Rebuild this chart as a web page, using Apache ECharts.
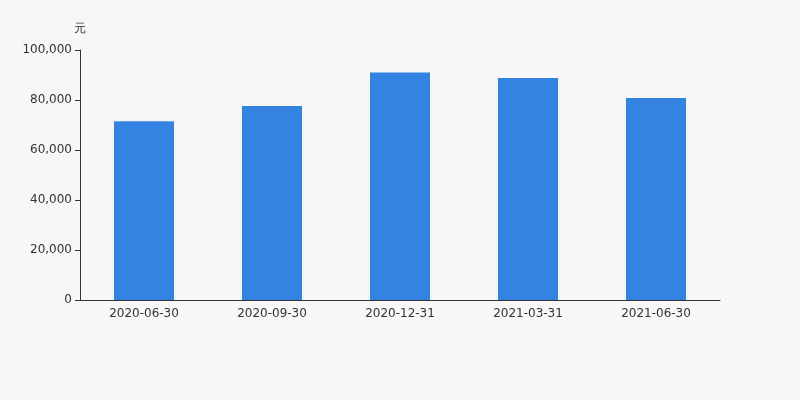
<!DOCTYPE html>
<html>
<head>
<meta charset="utf-8">
<script src="https://cdn.jsdelivr.net/npm/echarts@6/dist/echarts.min.js"></script>
<style>html,body{margin:0;padding:0;background:#f7f7f7;}#c{width:800px;height:400px;}</style>
</head>
<body>
<div id="c"></div>
<script>
var categories = ['2020-06-30', '2020-09-30', '2020-12-31', '2021-03-31', '2021-06-30'];
var values = [71500, 77600, 91000, 88800, 80800];
var unitName = '元';

var chart = echarts.init(document.getElementById('c'));
chart.setOption({
  backgroundColor: '#f7f7f7',
  animation: false,
  grid: { left: 80, right: 80, top: 50, bottom: 100 },
  xAxis: {
    type: 'category',
    data: categories,
    axisLine: { lineStyle: { color: '#333' } },
    axisTick: { lineStyle: { color: '#333' } },
    axisLabel: { color: '#333', fontSize: 12, fontFamily: 'DejaVu Sans' }
  },
  yAxis: {
    type: 'value',
    name: unitName,
    nameGap: 15,
    nameTextStyle: { color: '#333', fontSize: 12, fontFamily: 'DejaVu Sans' },
    min: 0, max: 100000, interval: 20000,
    axisLine: { show: true, lineStyle: { color: '#333' } },
    axisTick: { show: true, lineStyle: { color: '#333' } },
    splitLine: { show: false },
    axisLabel: { color: '#333', fontSize: 12, fontFamily: 'DejaVu Sans',
      formatter: function (v) { return v.toLocaleString('en-US'); } }
  },
  series: [{
    type: 'bar',
    data: values,
    barWidth: 60,
    itemStyle: { color: '#3482e2' }
  }]
});
</script>
</body>
</html>
